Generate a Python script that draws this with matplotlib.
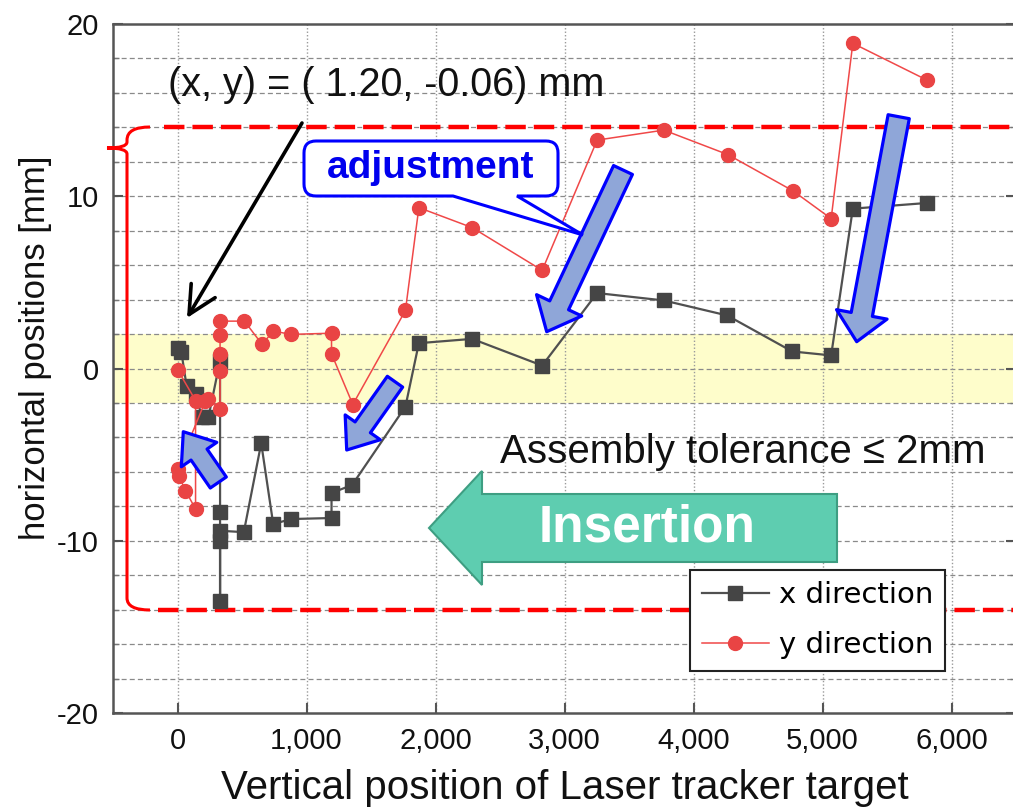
import numpy as np
import matplotlib
matplotlib.use("Agg")
import matplotlib.pyplot as plt
from matplotlib.path import Path
from matplotlib.patches import PathPatch, FancyArrow
from matplotlib.transforms import Affine2D

plt.rcParams['font.family'] = ['Liberation Sans', 'DejaVu Sans']
plt.rcParams['axes.unicode_minus'] = False

# --- data ---
x_pos = [0, 30, 70, 140, 190, 240, 330, 330, 330, 330, 330, 514, 649, 742, 881,
         1194, 1194, 1354, 1767, 1871, 2284, 2827, 3253, 3770, 4261, 4765, 5067,
         5235, 5811]
x_dir = [1.20, 0.95, -0.99, -1.5, -2.83, -2.83, 0.46, -8.35, -13.5, -10.0, -9.42,
         -9.5, -4.34, -9.03, -8.74, -8.68, -7.23, -6.76, -2.21, 1.47, 1.72, 0.17,
         4.38, 3.95, 3.08, 0.99, 0.76, 9.28, 9.61]

y_pos = [0, 140, 140, 62, 10, 0, 217, 240, 330, 330, 330, 330, 330, 519, 656,
         742, 881, 1194, 1194, 1359, 1767, 1871, 2284, 2827, 3253, 3770, 4266,
         4772, 5067, 5235, 5811]
y_dir = [-0.06, -1.86, -8.16, -7.09, -6.22, -5.83, -1.86, -1.75, -2.34, -0.12,
         0.85, 1.92, 2.75, 2.75, 1.40, 2.17, 1.98, 2.05, 0.85, -2.09, 3.37, 9.34,
         8.18, 5.70, 13.26, 13.84, 12.42, 10.31, 8.70, 18.88, 16.74]

tolerance = 2
limit_band = 14
x_ticks = [0, 1000, 2000, 3000, 4000, 5000, 6000]
x_tick_labels = ["0", "1,000", "2,000", "3,000", "4,000", "5,000", "6,000"]
y_ticks = [-20, -10, 0, 10, 20]

W, H = 1013, 810
fig = plt.figure(figsize=(W / 100, H / 100), dpi=100)
ax = fig.add_axes([113 / W, (H - 713) / H, 903 / W, 689 / H])
ax.set_xlim(-500, 6500)
ax.set_ylim(-20, 20)

# image-pixel coords (origin top-left) for the drawn-on annotations
pix = Affine2D().scale(1, -1).translate(0, H)

# tolerance band and grid
ax.axhspan(-tolerance, tolerance, color='#FEFDCB', zorder=0, lw=0)
for yy in range(-18, 20, 2):
    ax.axhline(yy, color='#8a8a8a', lw=0.9, dashes=(4, 2.5), zorder=1)
for xx in x_ticks:
    ax.axvline(xx, color='#9a9a9a', lw=1.0, ls=(0, (1, 1.5)), zorder=1)

# limit lines
ax.plot([-108, 6500], [limit_band, limit_band], color='#FF0000', lw=3.2,
        dashes=(4.6, 1.8), zorder=2, clip_on=False)
ax.plot([-155, 6500], [-limit_band, -limit_band], color='#FF0000', lw=3.2,
        dashes=(4.6, 1.8), zorder=2, clip_on=False)

# brace on the left
pts = [(150, 127), (127, 127), (127, 140), (127, 142), (127, 148),
       (107, 148), (127, 148), (127, 154), (127, 598), (127, 610), (150, 610)]
codes = [Path.MOVETO, Path.CURVE3, Path.CURVE3, Path.LINETO, Path.CURVE3,
         Path.CURVE3, Path.CURVE3, Path.CURVE3, Path.LINETO, Path.CURVE3,
         Path.CURVE3]
ax.add_patch(PathPatch(Path(pts, codes), fc='none', ec='#FF0000', lw=2.2,
                       transform=pix, clip_on=False, zorder=3))

# series
lx, = ax.plot(x_pos, x_dir, color='#505050', lw=1.6, marker='s', ms=9.5,
              mfc='#454545', mec='#454545', zorder=5, label='x direction')
ly, = ax.plot(y_pos, y_dir, color='#F04848', lw=1.1, marker='o', ms=10,
              mfc='#E94444', mec='#E94444', zorder=6, label='y direction')

# axes styling
ax.set_xticks(x_ticks)
ax.set_xticklabels(x_tick_labels)
ax.set_yticks(y_ticks)
ax.set_yticks(range(-18, 20, 2), minor=True)
ax.tick_params(direction='in', length=7, width=1.5, colors='#555555',
               labelsize=21, labelcolor='#111111', pad=10)
ax.tick_params(which='minor', direction='in', length=4, width=1, colors='#777777')
ax.tick_params(axis='y', right=True, which='both')
for s in ax.spines.values():
    s.set_color('#555555')
    s.set_linewidth(1.8)
ax.set_xlabel('Vertical position of Laser tracker target', fontsize=29,
              color='#111111', labelpad=10)
ax.set_ylabel('horizontal positions [mm]', fontsize=25, color='#111111')
ax.yaxis.set_label_coords((52 - 113) / 903, (713 - 348) / 689)

# insertion arrow
ax.add_patch(FancyArrow(837, 528, 429 - 837, 0, width=68, head_width=114,
                        head_length=53, length_includes_head=True,
                        fc='#5ECDB0', ec='#3E9E82', lw=1.5, transform=pix,
                        clip_on=False, zorder=7))
ax.text(647, 528, 'Insertion', color='white', fontsize=37, fontweight='bold',
        ha='center', va='center', transform=pix, zorder=8)

ax.text(500, 452, 'Assembly tolerance \u2264 2mm', fontsize=29,
        color='#111111', ha='left', va='center', transform=pix, zorder=8)


# blue adjustment arrows
def fat_arrow(tail, tip, tw, hw, hl):
    ax.annotate('', xy=tip, xycoords=pix, xytext=tail, textcoords=pix,
                arrowprops=dict(arrowstyle='simple,head_length=%g,head_width=%g,tail_width=%g'
                                % (hl, hw, tw), mutation_scale=1, fc='#8FA6D8',
                                ec='#0000FF', lw=2.3, shrinkA=0, shrinkB=0),
                zorder=9)


fat_arrow((623, 170), (546.7, 331.7), 15, 36, 21)
fat_arrow((898.7, 116.7), (856.7, 341.7), 15.5, 37, 20)
fat_arrow((395, 381.7), (346.7, 450), 13.5, 31, 20)
fat_arrow((218.3, 482.5), (183.3, 431.7), 14, 31, 20)

# black pointer to first point
ax.annotate('', xy=(187, 318), xycoords=pix, xytext=(302, 123), textcoords=pix,
            arrowprops=dict(arrowstyle='->,head_length=2.0,head_width=1.0',
                            color='black', lw=2.6, shrinkA=0, shrinkB=0),
            zorder=9)
ax.text(168, 85, '(x, y) = ( 1.20, -0.06) mm', fontsize=28.5,
        color='#111111', ha='left', va='center', transform=pix, zorder=9)

# adjustment callout (rounded box with a tail)
bx0, by0, bx1, by1, r = 304, 141, 558, 196, 12
call = [(bx0 + r, by0), (bx1 - r, by0), (bx1, by0), (bx1, by0 + r),
        (bx1, by1 - r), (bx1, by1), (bx1 - r, by1), (517, by1), (583, 235),
        (453, by1), (bx0 + r, by1), (bx0, by1), (bx0, by1 - r), (bx0, by0 + r),
        (bx0, by0), (bx0 + r, by0), (bx0 + r, by0)]
ccodes = [Path.MOVETO, Path.LINETO, Path.CURVE3, Path.CURVE3, Path.LINETO,
          Path.CURVE3, Path.CURVE3, Path.LINETO, Path.LINETO, Path.LINETO,
          Path.LINETO, Path.CURVE3, Path.CURVE3, Path.LINETO, Path.CURVE3,
          Path.CURVE3, Path.CLOSEPOLY]
ax.add_patch(PathPatch(Path(call, ccodes), fc='white', ec='#0000FF', lw=2.2,
                       transform=pix, clip_on=False, zorder=10))
ax.text(431, 168, 'adjustment', fontsize=28, fontweight='bold',
        color='#0000EE', ha='center', va='center', transform=pix, zorder=11)

leg = ax.legend(handles=[lx, ly], loc='lower left', bbox_to_anchor=(0.639, 0.061),
                frameon=True, fancybox=False, framealpha=1,
                edgecolor='#222222', handlelength=2.3, borderpad=0.4,
                labelspacing=0.75, handletextpad=0.35, borderaxespad=0,
                prop={'family': 'DejaVu Sans', 'size': 21})
leg.get_frame().set_linewidth(1.5)
leg.set_zorder(12)

fig.savefig('out.png', dpi=100)
